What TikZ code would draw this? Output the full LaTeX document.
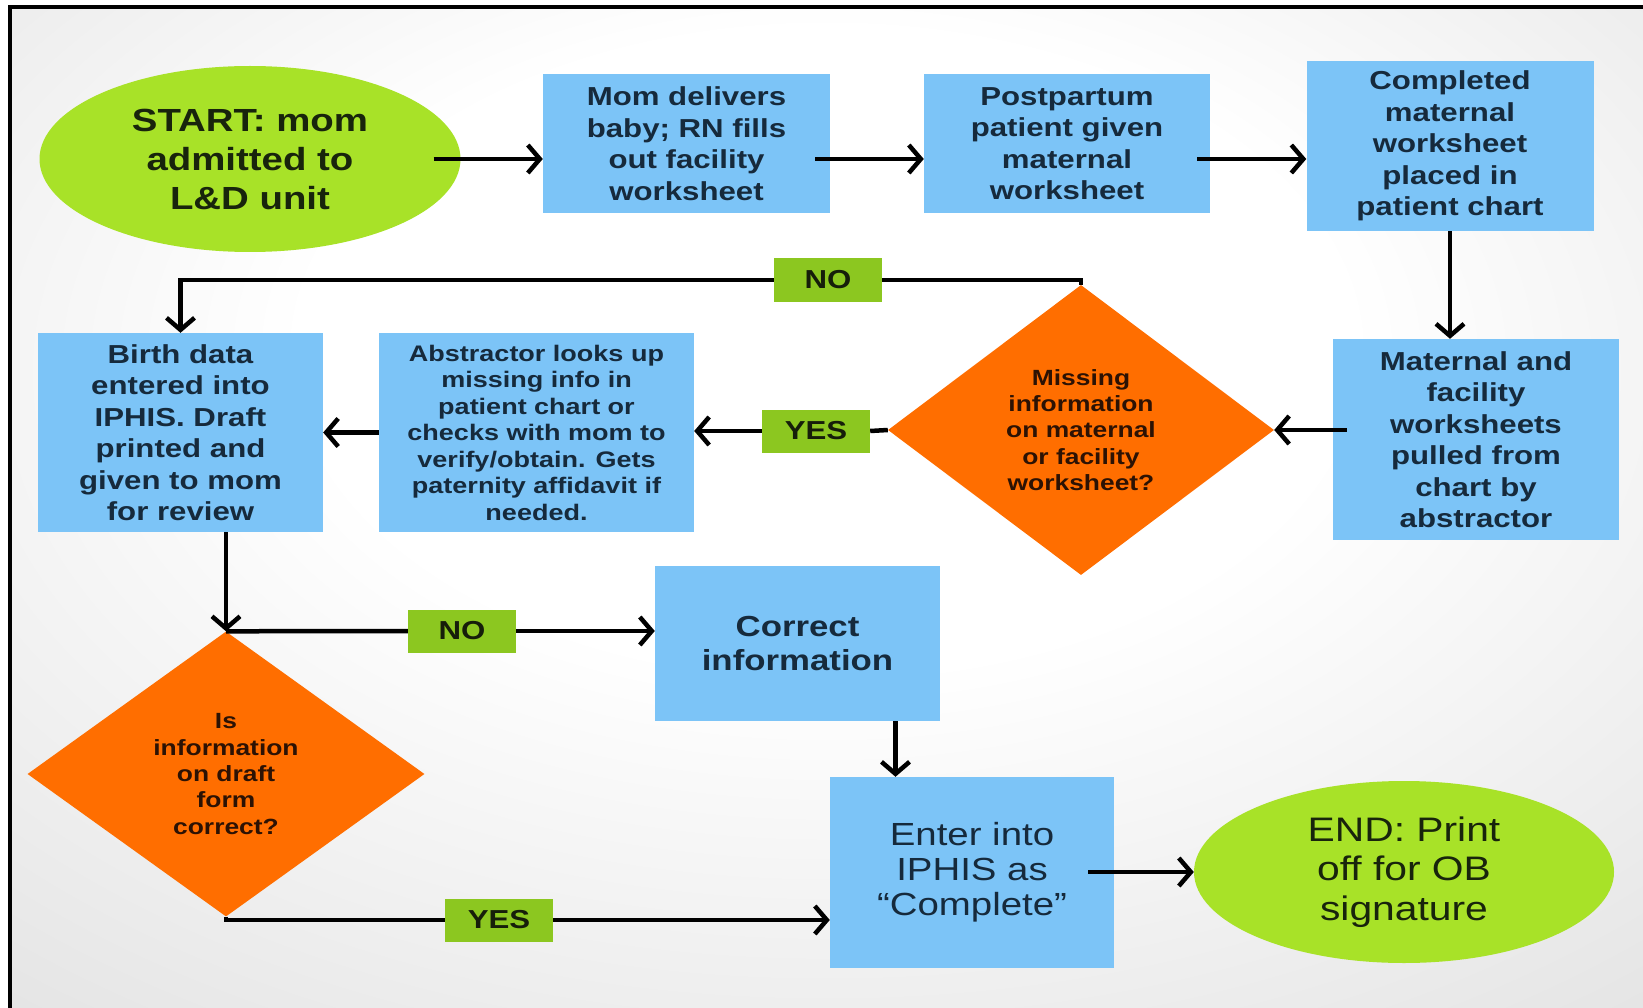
\documentclass[tikz,border=0pt]{standalone}
\usepackage{fontspec}
\setmainfont{Liberation Sans}[FakeStretch=1.2]
\usetikzlibrary{shapes.geometric,arrows.meta}

\definecolor{boxblue}{RGB}{124,196,247}
\definecolor{boxtext}{RGB}{22,42,60}
\definecolor{termgreen}{RGB}{168,226,40}
\definecolor{termtext}{RGB}{24,36,12}
\definecolor{decorange}{RGB}{255,110,0}
\definecolor{dectext}{RGB}{44,18,4}
\definecolor{taggreen}{RGB}{140,199,32}
\definecolor{tagtext}{RGB}{22,30,10}

% soft light glow behind the chart
\pgfdeclareradialshading{slideglow}{\pgfpoint{0bp}{10bp}}{%
  color(0bp)=(white); color(16bp)=(white);
  color(45bp)=(black!13); color(75bp)=(black!19)}

\begin{document}
\begin{tikzpicture}[x=1pt,y=-1pt,
  proc/.style={rectangle, fill=boxblue, text=boxtext, align=center,
    inner sep=0pt, font={\bfseries\fontsize{26pt}{31.5pt}\selectfont}},
  term/.style={ellipse, fill=termgreen, text=termtext, align=center,
    inner sep=0pt},
  decision/.style={diamond, fill=decorange, text=dectext, align=center,
    inner sep=0pt, font={\bfseries\fontsize{22pt}{26.3pt}\selectfont}},
  tag/.style={rectangle, fill=taggreen, text=tagtext, inner sep=0pt,
    minimum width=108pt, minimum height=43pt,
    font={\bfseries\fontsize{26pt}{30pt}\selectfont}},
  flow/.style={line width=4.5pt, draw=black},
  arr/.style={flow, -{Straight Barb[length=12pt,width=28pt]}}
]
\useasboundingbox (0,0) rectangle (1643,1008);
\fill[white] (0,0) rectangle (1643,1008);
\shade[shading=slideglow] (10,7) rectangle (1643,1008);
\draw[line width=4pt] (10,1008) -- (10,7) -- (1643,7);

% terminals
\node[term, minimum width=421pt, minimum height=186pt,
  font={\bfseries\fontsize{32pt}{39pt}\selectfont}] (start) at (250,159)
  {START: mom\\admitted to\\L\&D unit};
\node[term, minimum width=420pt, minimum height=182pt,
  font={\fontsize{34pt}{39.3pt}\selectfont}] (end) at (1404,872)
  {END: Print\\off for OB\\signature};

% process boxes
\node[proc, minimum width=287pt, minimum height=139pt] (b1) at (686.5,143.5)
  {Mom delivers\\baby; RN fills\\out facility\\worksheet};
\node[proc, minimum width=286pt, minimum height=139pt] (b2) at (1067,143.5)
  {Postpartum\\patient given\\maternal\\worksheet};
\node[proc, minimum width=287pt, minimum height=170pt] (b3) at (1450,146)
  {Completed\\maternal\\worksheet\\placed in\\patient chart};
\node[proc, minimum width=286pt, minimum height=201pt] (b4) at (1476,439.5)
  {Maternal and\\facility\\worksheets\\pulled from\\chart by\\abstractor};
\node[proc, minimum width=315pt, minimum height=199pt,
  font={\bfseries\fontsize{22.5pt}{26.5pt}\selectfont}] (abs) at (536.5,432.5)
  {Abstractor looks up\\missing info in\\patient chart or\\checks with mom to\\verify/obtain. Gets\\paternity affidavit if\\needed.};
\node[proc, minimum width=285pt, minimum height=199pt] (birth) at (180.5,432.5)
  {Birth data\\entered into\\IPHIS. Draft\\printed and\\given to mom\\for review};
\node[proc, minimum width=285pt, minimum height=155pt,
  font={\bfseries\fontsize{29pt}{34.6pt}\selectfont}] (corr) at (797.5,643.5)
  {Correct\\information};
\node[proc, minimum width=284pt, minimum height=191pt,
  font={\fontsize{32pt}{35pt}\selectfont}] (enter) at (972,872.5)
  {Enter into\\IPHIS as\\“Complete”};

% decisions
\node[decision, minimum width=386pt, minimum height=290pt] (d1) at (1081,430)
  {Missing\\information\\on maternal\\or facility\\worksheet?};
\node[decision, minimum width=397pt, minimum height=285pt] (d2) at (226,774)
  {Is\\information\\on draft\\form\\correct?};

% branch tags
\node[tag] (no1) at (828,280) {NO};
\node[tag] (yes1) at (816,431) {YES};
\node[tag] (no2) at (462,631) {NO};
\node[tag] (yes2) at (499,920) {YES};

% connectors
\draw[arr] ([xshift=-27pt]start.east) -- (start.east -| b1.west);
\draw[arr] ([xshift=-15pt]b1.east |- start.east) -- (b2.west |- start.east);
\draw[arr] ([xshift=-13pt]b2.east |- start.east) -- (b3.west |- start.east);
\draw[arr] (b3.south) -- (b3.south |- b4.north);
\draw[arr] ([xshift=14pt]b4.west |- d1.east) -- (d1.east);
\draw[flow] (d1.west) -- (yes1.east);
\draw[arr] (yes1.west) -- (abs.east |- yes1.west);
\draw[arr] (abs.west) -- (birth.east);
\draw[flow] (d1.north) |- (no1.east);
\draw[arr] (no1.west) -| (birth.north);
\draw[arr] (birth.south -| d2.north) -- (d2.north);
\draw[flow] (d2.north) -- (no2.west);
\draw[arr] (no2.east) -- (corr.west |- no2.east);
\draw[arr] ([xshift=98pt]corr.south) -- ([xshift=98pt]corr.south |- enter.north);
\draw[flow] (d2.south) |- (yes2.west);
\draw[arr] (yes2.east) -- (enter.west |- yes2.east);
\draw[arr] ([xshift=-26pt]enter.east |- end.west) -- (end.west);
\end{tikzpicture}
\end{document}
